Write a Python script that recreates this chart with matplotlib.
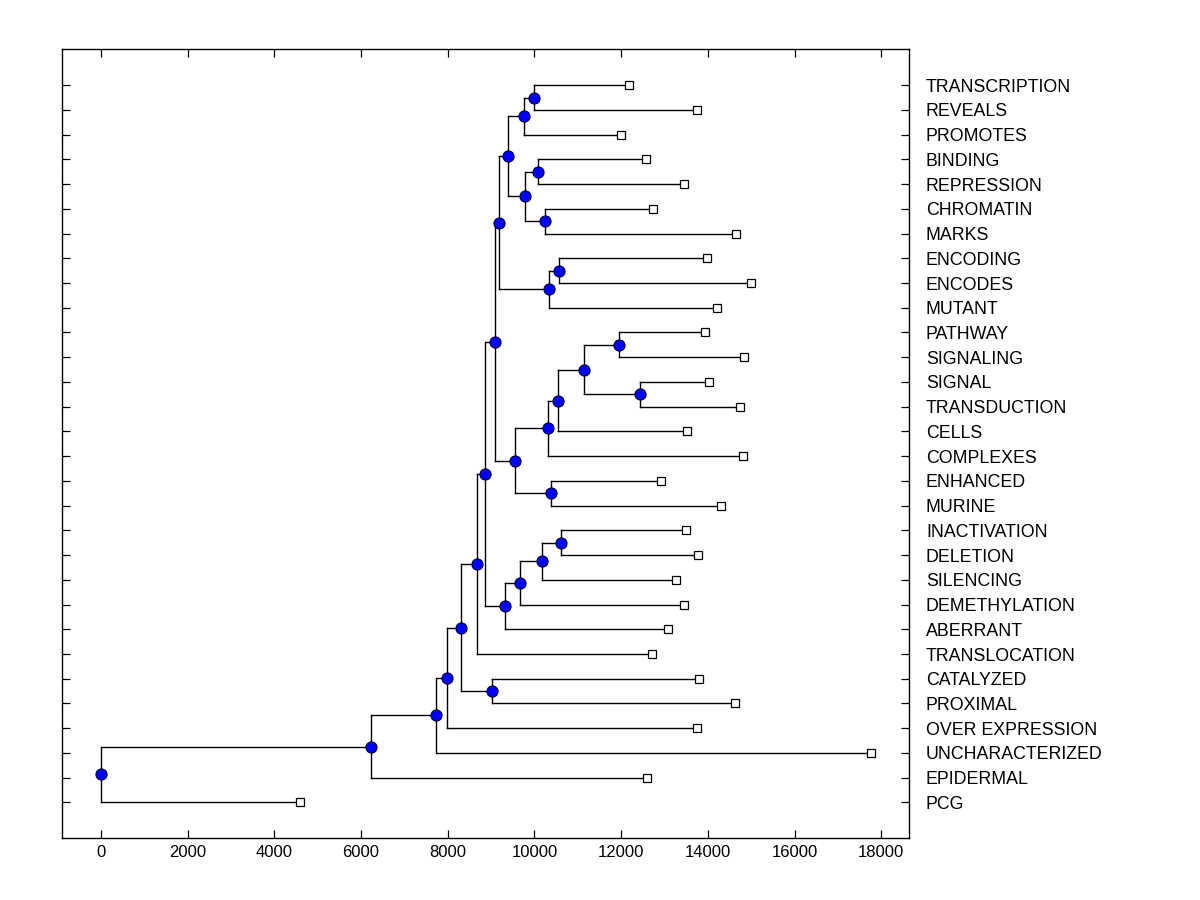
import numpy as np
import matplotlib.pyplot as plt

plt.rcParams['font.family'] = ['Liberation Sans', 'DejaVu Sans']

# leaves, top to bottom
leaf_names = ["TRANSCRIPTION", "REVEALS", "PROMOTES", "BINDING", "REPRESSION",
              "CHROMATIN", "MARKS", "ENCODING", "ENCODES", "MUTANT",
              "PATHWAY", "SIGNALING", "SIGNAL", "TRANSDUCTION", "CELLS",
              "COMPLEXES", "ENHANCED", "MURINE", "INACTIVATION", "DELETION",
              "SILENCING", "DEMETHYLATION", "ABERRANT", "TRANSLOCATION", "CATALYZED",
              "PROXIMAL", "OVER EXPRESSION", "UNCHARACTERIZED", "EPIDERMAL", "PCG"]
leaf_x = [12176, 13744, 11991, 12568, 13444,
          12729, 14643, 13974, 14989, 14205,
          13928, 14828, 14020, 14735, 13513,
          14805, 12914, 14297, 13490, 13767,
          13260, 13444, 13075, 12706, 13790,
          14620, 13744, 17756, 12591, 4589]

# merges: leaves are 0..29, merged node k gets index 30+k
merges = [(0, 1), (30, 2), (3, 4), (5, 6), (32, 33), (31, 34), (7, 8), (36, 9),
          (35, 37), (10, 11), (12, 13), (39, 40), (41, 14), (42, 15), (16, 17),
          (43, 44), (38, 45), (18, 19), (47, 20), (48, 21), (49, 22), (46, 50),
          (51, 23), (24, 25), (52, 53), (54, 26), (55, 27), (56, 28), (57, 29)]
node_x = [9985, 9754, 10077, 10239, 9777, 9385, 10561, 10331, 9178, 11945,
          12429, 11138, 10538, 10308, 10377, 9547, 9086, 10608, 10170, 9662,
          9316, 8855, 8671, 9016, 8302, 7979, 7725, 6242, 0]

n = len(leaf_names)
xs = list(leaf_x) + list(node_x)
ys = list(np.arange(n, 0, -1, dtype=float))
for a, b in merges:
    ys.append((ys[a] + ys[b]) / 2)

fig = plt.figure(figsize=(12, 9), dpi=100)
ax = fig.add_axes([0.0519, 0.0686, 0.7058, 0.8766])

for k, (a, b) in enumerate(merges):
    p = n + k
    ax.plot([xs[p], xs[p]], [ys[a], ys[b]], color="black", lw=1.0, zorder=1)
    ax.plot([xs[p], xs[a]], [ys[a], ys[a]], color="black", lw=1.0, zorder=1)
    ax.plot([xs[p], xs[b]], [ys[b], ys[b]], color="black", lw=1.0, zorder=1)

ax.plot(node_x, ys[n:], "o", ms=8, mfc="#0000ff", mec="#000033", mew=0.8, ls="none", zorder=3)
ax.plot(leaf_x, ys[:n], "s", ms=6, mfc="white", mec="black", mew=0.9, ls="none", zorder=3)

R = max(leaf_x)
ax.set_xlim(-0.05 * R, 1.05 * R)
ax.set_ylim(1 - 0.05 * (n - 1), n + 0.05 * (n - 1))
ax.set_xticks(np.arange(0, 18001, 2000))
ax.set_yticks(ys[:n])
ax.set_yticklabels(leaf_names)
ax.tick_params(axis="both", direction="in", length=6, width=0.9,
               top=True, right=True, labelleft=False, labelright=True)
ax.tick_params(axis="x", pad=5, labelsize=12)
ax.tick_params(axis="y", pad=12, labelsize=12.8)
for s in ax.spines.values():
    s.set_linewidth(1.0)

plt.savefig("out.png")
